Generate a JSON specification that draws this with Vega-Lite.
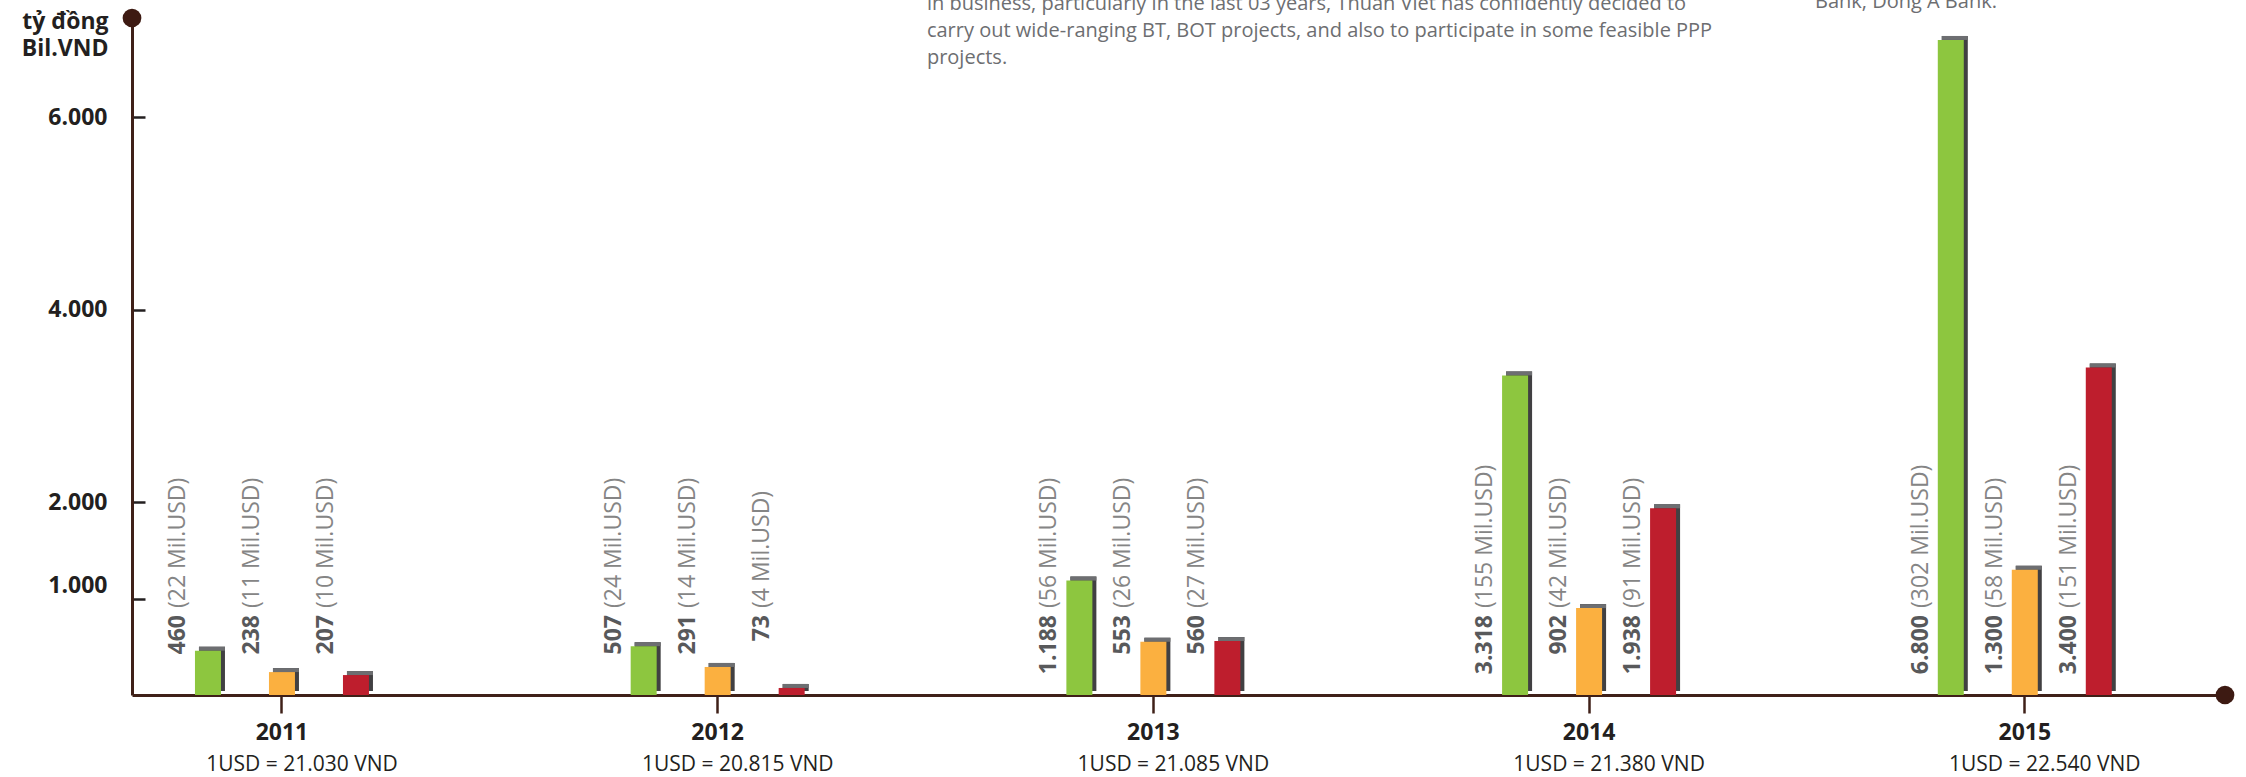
{
  "$schema": "https://vega.github.io/schema/vega-lite/v6.json",
  "width": 2093,
  "height": 677,
  "autosize": {"type": "none"},
  "padding": {"left": 132, "top": 18, "right": 21, "bottom": 82},
  "background": "white",
  "config": {
    "view": {"stroke": null},
    "font": "Open Sans",
    "locale": {"number": {"decimal": ",", "thousands": ".", "grouping": [3], "currency": ["", ""]}}
  },
  "datasets": {
    "bars": [
      {"year": "2011", "series": "Series 1", "value": 460, "usd": 22},
      {"year": "2011", "series": "Series 2", "value": 238, "usd": 11},
      {"year": "2011", "series": "Series 3", "value": 207, "usd": 10},
      {"year": "2012", "series": "Series 1", "value": 507, "usd": 24},
      {"year": "2012", "series": "Series 2", "value": 291, "usd": 14},
      {"year": "2012", "series": "Series 3", "value": 73, "usd": 4},
      {"year": "2013", "series": "Series 1", "value": 1188, "usd": 56},
      {"year": "2013", "series": "Series 2", "value": 553, "usd": 26},
      {"year": "2013", "series": "Series 3", "value": 560, "usd": 27},
      {"year": "2014", "series": "Series 1", "value": 3318, "usd": 155},
      {"year": "2014", "series": "Series 2", "value": 902, "usd": 42},
      {"year": "2014", "series": "Series 3", "value": 1938, "usd": 91},
      {"year": "2015", "series": "Series 1", "value": 6800, "usd": 302},
      {"year": "2015", "series": "Series 2", "value": 1300, "usd": 58},
      {"year": "2015", "series": "Series 3", "value": 3400, "usd": 151}
    ],
    "years": [
      {"year": "2011", "rate": 21030},
      {"year": "2012", "rate": 20815},
      {"year": "2013", "rate": 21085},
      {"year": "2014", "rate": 21380},
      {"year": "2015", "rate": 22540}
    ]
  },
  "resolve": {"scale": {"x": "independent"}},
  "layer": [
    {
      "data": {"name": "bars"},
      "encoding": {
        "x": {
          "field": "year",
          "type": "nominal",
          "scale": {"paddingInner": 0.4905, "paddingOuter": 0.1471, "align": 0.3352, "round": false},
          "axis": null
        },
        "xOffset": {"field": "series", "type": "nominal", "scale": {"domain": ["Series 1", "Series 2", "Series 3"], "paddingInner": 0, "paddingOuter": 0}}
      },
      "layer": [
        {
          "mark": {"type": "bar", "width": 26, "color": "#414042", "yOffset": -4},
          "encoding": {
            "y": {
              "field": "value",
              "type": "quantitative",
              "scale": {"domain": [0, 7028], "nice": false},
              "axis": {
                "values": [1000, 2000, 4000, 6000],
                "labelExpr": "format(datum.value, ',')",
                "grid": false,
                "labelFont": "Open Sans",
                "labelFontSize": 23,
                "labelFontWeight": "bold",
                "labelColor": "#231f20",
                "labelPadding": 38,
                "labelOffset": {"condition": {"test": "datum.value == 1000", "value": -13}, "value": 0},
                "tickSize": -13,
                "tickWidth": 2.5,
                "tickColor": "#231f20",
                "domainColor": "#3f2018",
                "domainWidth": 3,
                "title": ["tỷ đồng", "Bil.VND"],
                "titleAngle": 0,
                "titleAlign": "right",
                "titleBaseline": "alphabetic",
                "titleX": -24,
                "titleY": 10,
                "titleLineHeight": 27,
                "titleFont": "Open Sans",
                "titleFontSize": 23,
                "titleFontWeight": "bold",
                "titleColor": "#231f20"
              }
            }
          }
        },
        {
          "mark": {"type": "bar", "width": 26, "color": "#6d6e71", "yOffset": -4, "y2Offset": 0},
          "encoding": {
            "y": {"field": "value", "type": "quantitative"},
            "y2": {"field": "value"}
          }
        }
      ]
    },
    {
      "encoding": {
        "x": {
          "field": "year",
          "type": "nominal",
          "scale": {"paddingInner": 0.4905, "paddingOuter": 0.1471, "align": 0.304, "round": false},
          "axis": {
            "title": null,
            "labelAngle": 0,
            "labelFont": "Open Sans",
            "labelFontSize": 23,
            "labelFontWeight": "bold",
            "labelColor": "#231f20",
            "labelBaseline": "top",
            "labelPadding": 8,
            "tickSize": 18,
            "tickWidth": 2.5,
            "tickColor": "#3f2018",
            "domainColor": "#3f2018",
            "domainWidth": 3
          }
        }
      },
      "layer": [
        {
          "data": {"name": "bars"},
          "mark": {"type": "bar", "width": 26},
          "encoding": {
            "xOffset": {"field": "series", "type": "nominal", "scale": {"domain": ["Series 1", "Series 2", "Series 3"], "paddingInner": 0, "paddingOuter": 0}},
            "y": {"field": "value", "type": "quantitative"},
            "color": {
              "field": "series",
              "type": "nominal",
              "scale": {"domain": ["Series 1", "Series 2", "Series 3"], "range": ["#8dc63f", "#fbb040", "#be1e2d"]},
              "legend": null
            }
          }
        },
        {
          "data": {"name": "bars"},
          "mark": {"type": "text", "angle": 270, "align": "right", "baseline": "middle", "dx": 80, "dy": -30, "font": "Open Sans", "fontSize": 23, "fontWeight": "bold", "color": "#58595b"},
          "encoding": {
            "xOffset": {"field": "series", "type": "nominal"},
            "y": {"datum": 0, "type": "quantitative"},
            "text": {"field": "value", "type": "quantitative", "format": ","}
          }
        },
        {
          "data": {"name": "bars"},
          "transform": [{"calculate": "'(' + datum.usd + ' Mil.USD)'", "as": "usdLabel"}],
          "mark": {"type": "text", "angle": 270, "align": "left", "baseline": "middle", "dx": 87, "dy": -30, "font": "Open Sans", "fontSize": 23, "fontWeight": "normal", "color": "#858585"},
          "encoding": {
            "xOffset": {"field": "series", "type": "nominal"},
            "y": {"datum": 0, "type": "quantitative"},
            "text": {"field": "usdLabel", "type": "nominal"}
          }
        },
        {
          "data": {"name": "years"},
          "transform": [{"calculate": "'1USD = ' + format(datum.rate, ',') + ' VND'", "as": "rateLabel"}],
          "mark": {"type": "text", "align": "center", "baseline": "middle", "dx": 20, "dy": 70, "font": "Open Sans", "fontSize": 21, "color": "#231f20"},
          "encoding": {
            "y": {"datum": 0, "type": "quantitative"},
            "text": {"field": "rateLabel", "type": "nominal"}
          }
        }
      ]
    },
    {
      "data": {"values": [{}]},
      "layer": [
        {
          "mark": {"type": "point", "filled": true, "size": 350, "color": "#3d1a12", "opacity": 1},
          "encoding": {
            "x": {"datum": 0, "type": "quantitative", "scale": {"domain": [0, 1]}, "axis": null},
            "y": {"datum": 7028, "type": "quantitative"}
          }
        },
        {
          "mark": {"type": "point", "filled": true, "size": 350, "color": "#3d1a12", "opacity": 1},
          "encoding": {
            "x": {"datum": 1, "type": "quantitative"},
            "y": {"datum": 0, "type": "quantitative"}
          }
        },
        {
          "mark": {
            "type": "text",
            "align": "left",
            "baseline": "alphabetic",
            "dy": -8,
            "lineHeight": 27,
            "font": "Open Sans",
            "fontSize": 20,
            "color": "#6d6e71",
            "text": [
              "in business, particularly in the last 03 years, Thuan Viet has confidently decided to",
              "carry out wide-ranging BT, BOT projects, and also to participate in some feasible PPP",
              "projects."
            ]
          },
          "encoding": {
            "x": {"datum": 0.3798, "type": "quantitative"},
            "y": {"datum": 7028, "type": "quantitative"}
          }
        },
        {
          "mark": {
            "type": "text",
            "align": "left",
            "baseline": "alphabetic",
            "dy": -10,
            "font": "Open Sans",
            "fontSize": 20,
            "color": "#6d6e71",
            "text": "Bank, Dong A Bank."
          },
          "encoding": {
            "x": {"datum": 0.8041, "type": "quantitative"},
            "y": {"datum": 7028, "type": "quantitative"}
          }
        }
      ]
    }
  ]
}
